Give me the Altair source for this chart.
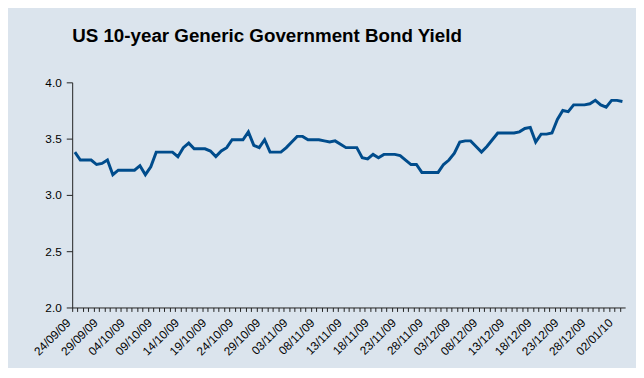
import altair as alt
import pandas as pd

title_text = "US 10-year Generic Government Bond Yield"
start_date = "2009-09-24"
yields = [
    3.38, 3.31, 3.31, 3.31, 3.27, 3.28, 3.31, 3.18, 3.22, 3.22,
    3.22, 3.22, 3.26, 3.18, 3.25, 3.38, 3.38, 3.38, 3.38, 3.34,
    3.42, 3.46, 3.41, 3.41, 3.41, 3.39, 3.34, 3.39, 3.42, 3.49,
    3.49, 3.49, 3.56, 3.44, 3.42, 3.49, 3.38, 3.38, 3.38, 3.42,
    3.47, 3.52, 3.52, 3.49, 3.49, 3.49, 3.48, 3.47, 3.48, 3.45,
    3.42, 3.42, 3.42, 3.33, 3.32, 3.36, 3.33, 3.36, 3.36, 3.36,
    3.35, 3.31, 3.27, 3.27, 3.20, 3.20, 3.20, 3.20, 3.27, 3.31,
    3.37, 3.47, 3.48, 3.48, 3.43, 3.38, 3.43, 3.49, 3.55, 3.55,
    3.55, 3.55, 3.56, 3.59, 3.60, 3.47, 3.54, 3.54, 3.55, 3.67,
    3.75, 3.74, 3.80, 3.80, 3.80, 3.81, 3.84, 3.80, 3.78, 3.84,
    3.84, 3.83,
]
y_ticks = [2.0, 2.5, 3.0, 3.5, 4.0]

dates = pd.date_range(start_date, periods=len(yields), freq="D")
df = pd.DataFrame({"date": dates, "yield": yields})

x_domain = [
    (dates[0] - pd.Timedelta(hours=12)).isoformat(),
    (dates[-1] + pd.Timedelta(hours=12)).isoformat(),
]

label_expr = (
    "(round((datum.value - datetime(2009, 8, 24)) / 86400000) % 5 == 0)"
    " ? timeFormat(datum.value, '%d/%m/%y') : ''"
)

chart = (
    alt.Chart(df)
    .mark_line(color="#004c8c", strokeWidth=3)
    .encode(
        x=alt.X(
            "date:T",
            scale=alt.Scale(domain=x_domain, nice=False),
            axis=alt.Axis(
                title=None,
                tickCount={"interval": "day", "step": 1},
                labelExpr=label_expr,
                labelOverlap=False,
                labelAngle=-45,
                labelAlign="right",
                labelBaseline="middle",
                labelOffset=-4,
                tickOffset=-2.75,
                labelPadding=9,
                tickSize=4,
                grid=False,
                domainColor="#222222",
                tickColor="#222222",
                labelFont="Liberation Sans",
                labelFontSize=12,
                labelColor="#000000",
                labelBound=False,
                labelFlush=False,
            ),
        ),
        y=alt.Y(
            "yield:Q",
            scale=alt.Scale(domain=[2.0, 4.0], nice=False, zero=False),
            axis=alt.Axis(
                title=None,
                values=y_ticks,
                format=".1f",
                tickSize=6,
                labelPadding=5,
                grid=False,
                domainColor="#222222",
                tickColor="#222222",
                labelFont="Liberation Sans",
                labelFontSize=12,
                labelColor="#000000",
            ),
        ),
    )
    .properties(
        width=560,
        height=228,
        title=alt.TitleParams(
            text=title_text,
            anchor="start",
            frame="group",
            font="Liberation Sans",
            fontSize=19,
            fontWeight="bold",
            color="#000000",
            baseline="alphabetic",
            offset=16,
        ),
        background="#dbe4ed",
        padding={"left": 65, "top": 73, "right": 11, "bottom": 59},
        autosize=alt.AutoSizeParams(type="none"),
    )
    .configure_view(stroke=None)
)

chart.save("out.html", embed_options={"renderer": "svg", "actions": False})
